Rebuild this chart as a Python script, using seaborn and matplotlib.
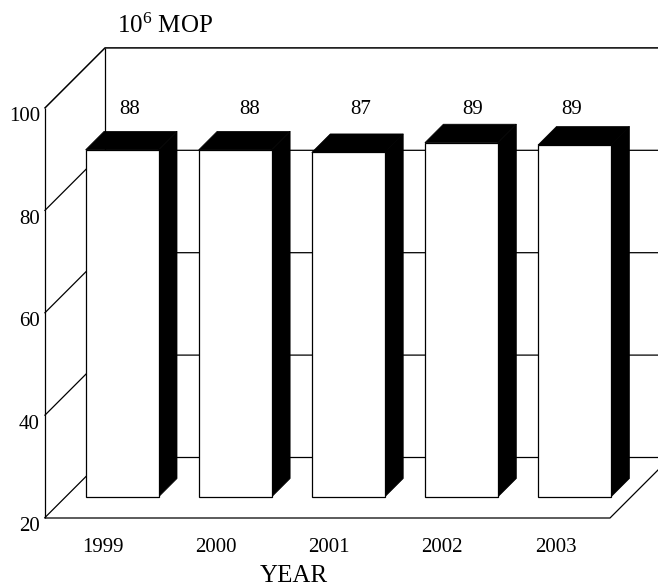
# coding:utf-8
import pandas as pd
import matplotlib
matplotlib.use("Agg")
import matplotlib.pyplot as plt
from matplotlib.transforms import ScaledTranslation
import seaborn as sns

years = ["1999", "2000", "2001", "2002", "2003"]
production = [87.8, 87.8, 87.3, 89.2, 88.75]
bar_labels = ["88", "88", "87", "89", "89"]
y_ticks = [20, 40, 60, 80, 100]

sns.set_theme(style="white")
plt.rcParams["font.family"] = ["Liberation Serif", "DejaVu Serif"]
plt.rcParams["mathtext.fontset"] = "custom"
plt.rcParams["mathtext.rm"] = "Liberation Serif"

FS = 15
W, H = 658, 586
# pixel box of the plane the bar fronts sit in
LEFT, RIGHT, BOTTOM, TOP = 65.5, 631, 497, 87.4

fig = plt.figure(figsize=(W / 100, H / 100), dpi=100, facecolor="white")
ax = fig.add_axes([LEFT / W, 1 - BOTTOM / H, (RIGHT - LEFT) / W, (BOTTOM - TOP) / H])
ax.patch.set_alpha(0)

df = pd.DataFrame({"year": years, "value": production})
sns.barplot(data=df, x="year", y="value", color="white", saturation=1,
            width=0.645, edgecolor="black", linewidth=0.9, ax=ax, zorder=3)
ax.set_xlim(-0.5, 4.5)
ax.set_ylim(20, 100)
sns.despine(ax=ax, left=True, bottom=True)

# oblique depth in pixels -> data units
px_x = (RIGHT - LEFT) / 5
px_y = (BOTTOM - TOP) / 80


def dep(x, y, d):
    return x + d / px_x, y + d / px_y


FRONT, BACK, BAR_D = -21, 39.5, 18.5
x0, x1 = -0.5, 4.5
line = dict(color="black", lw=0.9, clip_on=False, zorder=1, solid_capstyle="butt")

# back wall and side wall lines
for v in y_ticks:
    ax.plot(*zip(dep(x0, v, FRONT), dep(x0, v, BACK), dep(x1, v, BACK)),
            **{**line, "lw": 0.9 if v != 100 else 1.1})
ax.plot(*zip(dep(x0, 20, FRONT), dep(x0, 100, FRONT)), **line)
ax.plot(*zip(dep(x0, 20, BACK), dep(x0, 100, BACK)), **line)
# floor
ax.plot(*zip(dep(x0, 20, FRONT), dep(x1, 20, FRONT), dep(x1, 20, BACK)), **line)

# bars start at the floor, then side and top in black
for p, v in zip(ax.patches, production):
    p.set_y(20)
    p.set_height(v - 20)
    p.set_clip_on(False)
    a, b = p.get_x(), p.get_x() + p.get_width()
    side = [(b, 20), dep(b, 20, BAR_D), dep(b, v, BAR_D), (b, v)]
    top = [(a, v), dep(a, v, BAR_D), dep(b, v, BAR_D), (b, v)]
    ax.fill(*zip(*side), color="black", lw=0.5, zorder=2)
    ax.fill(*zip(*top), color="black", lw=0.5, zorder=2)

# value labels sit at one height, nudged off the bar centres
label_nudge = [8, 14, 12, 11, -2.5]
for i, (t, n) in enumerate(zip(bar_labels, label_nudge)):
    ax.text(i + n / px_x, 95.7, t, ha="center", va="center", fontsize=FS, color="black")

ax.set_yticks(y_ticks)
ax.tick_params(axis="y", length=0, pad=18.4, labelsize=FS, labelcolor="black")
ax.tick_params(axis="x", length=0, pad=29.5, labelsize=FS, labelcolor="black")
ax.set_ylabel("")

off_y = ScaledTranslation(0, -27 / 100, fig.dpi_scale_trans)
for lab in ax.get_yticklabels():
    lab.set_transform(lab.get_transform() + off_y)
off_x = ScaledTranslation(-19 / 100, 0, fig.dpi_scale_trans)
for lab in ax.get_xticklabels():
    lab.set_transform(lab.get_transform() + off_x)

ax.set_xlabel("YEAR", fontsize=18, color="black")
ax.xaxis.set_label_coords((294 - LEFT) / (RIGHT - LEFT), (BOTTOM - 564.5) / (BOTTOM - TOP))

fig.text(117 / W, 1 - 33 / H, r"$\mathrm{10^{6}}$ MOP", fontsize=18,
         color="black", va="baseline")

fig.savefig("out.png", dpi=100)
